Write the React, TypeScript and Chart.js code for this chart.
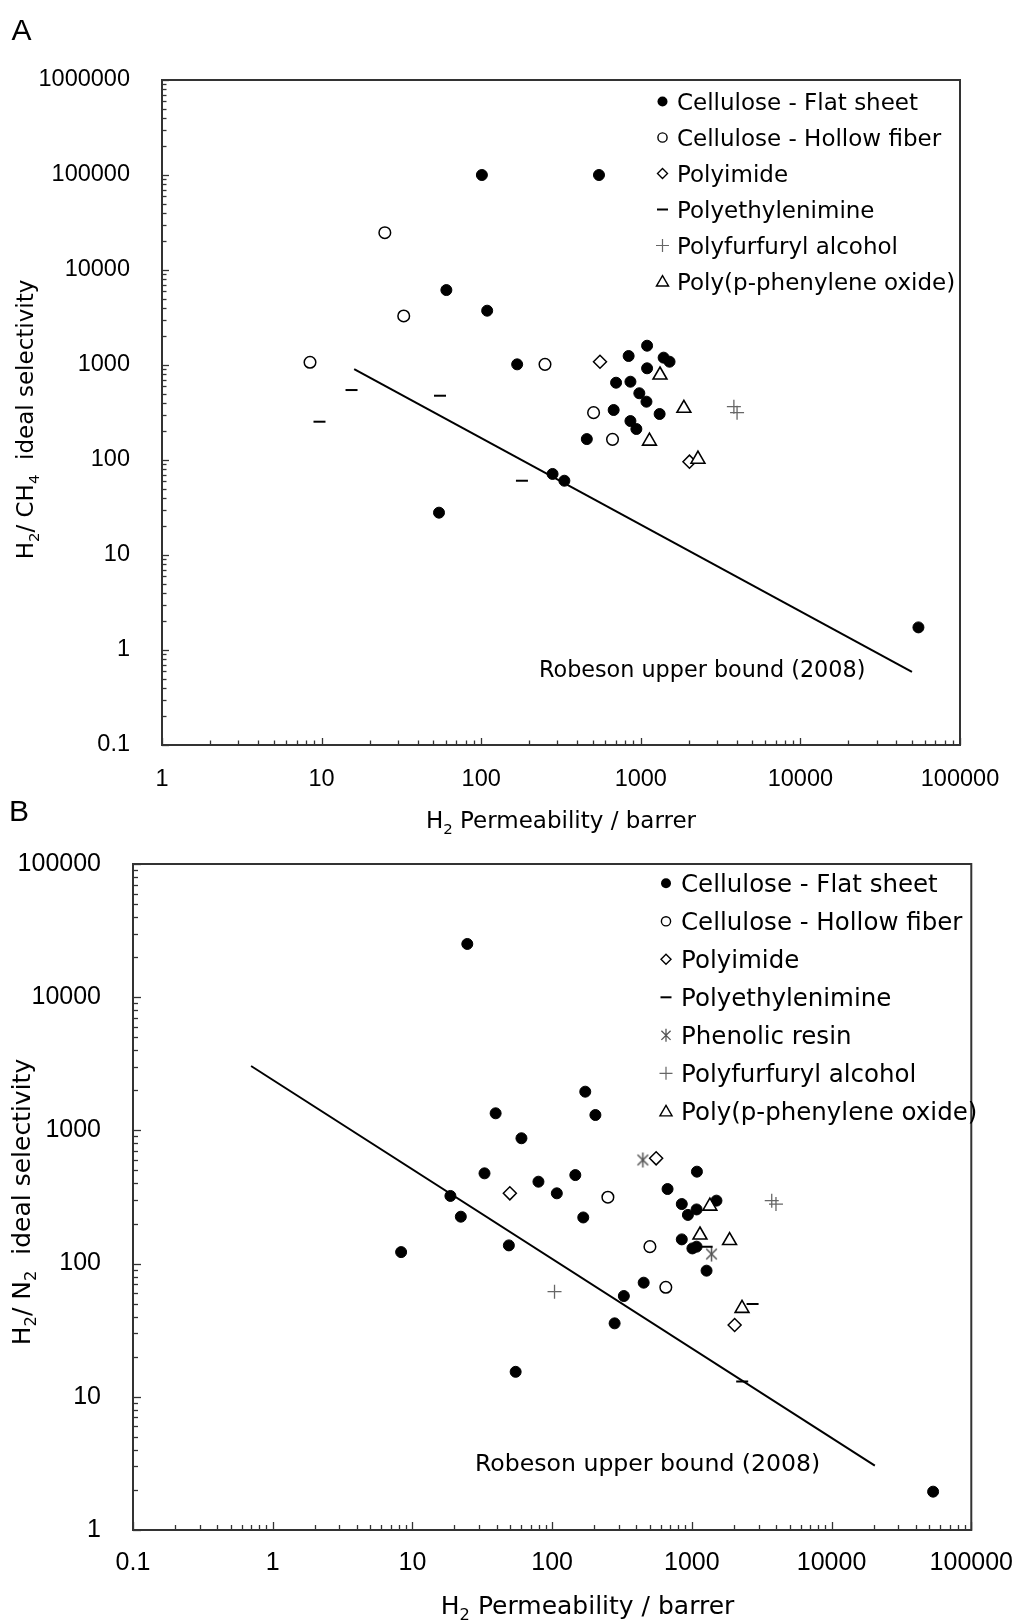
import React, { useEffect, useRef } from 'react';
import { Chart, registerables } from 'chart.js';

Chart.register(...registerables);

const TEXT_FONT = '"DejaVu Sans", "Noto Sans", sans-serif';
const TICK_FONT = '"Liberation Sans", Arial, sans-serif';

// ---------------- Panel A : H2 / CH4 ----------------
const A_X_TICKS = [1, 10, 100, 1000, 10000, 100000];
const A_X_LABELS = ['1', '10', '100', '1000', '10000', '100000'];
const A_Y_TICKS = [0.1, 1, 10, 100, 1000, 10000, 100000, 1000000];
const A_Y_LABELS = ['0.1', '1', '10', '100', '1000', '10000', '100000', '1000000'];

const A_FLAT_P = [101, 547, 60.5, 109, 168, 1095, 839, 1390, 1514, 1095, 700, 861, 979, 1085, 676, 1312, 861, 938, 459, 54.4, 280, 332, 54900];
const A_FLAT_S = [100000, 100000, 6150, 3730, 1016, 1596, 1244, 1195, 1083, 923, 651, 667, 504, 411, 336, 305, 257, 212, 166, 27.9, 71.3, 60.5, 1.73];
const A_HOLLOW_P = [24.9, 32.7, 8.46, 251, 506, 665];
const A_HOLLOW_S = [24700, 3280, 1068, 1016, 315, 165];
const A_PI_P = [555, 2018];
const A_PI_S = [1083, 96];
const A_PEI_P = [15.4, 55.2, 9.7, 180];
const A_PEI_S = [545, 475, 253, 60.5];
const A_PFA_P = [3830, 4010];
const A_PFA_S = [364, 315];
const A_PPO_P = [1319, 1862, 1133, 2281];
const A_PPO_S = [785, 350, 158, 102];
const A_BOUND_P = [16, 50000];
const A_BOUND_S = [907, 0.59];

// ---------------- Panel B : H2 / N2 ----------------
const B_X_TICKS = [0.1, 1, 10, 100, 1000, 10000, 100000];
const B_X_LABELS = ['0.1', '1', '10', '100', '1000', '10000', '100000'];
const B_Y_TICKS = [1, 10, 100, 1000, 10000, 100000];
const B_Y_LABELS = ['1', '10', '100', '1000', '10000', '100000'];

const B_FLAT_P = [24.7, 39.4, 32.8, 18.7, 22.2, 49, 8.3, 172.6, 204, 60.3, 79.8, 108, 146.5, 167, 1087, 670, 847, 1081, 937, 1500, 847, 1009, 1081, 1274, 452, 326, 280, 54.8, 53300];
const B_FLAT_S = [25100, 1344, 476, 322, 225, 137, 122, 1953, 1305, 873, 412, 337, 462, 222, 490, 363, 280, 255, 232, 297, 152, 130, 134, 88.5, 71.9, 57.1, 35.6, 15.4, 1.94];
const B_HOLLOW_P = [250.6, 501, 651];
const B_HOLLOW_S = [315, 134, 66.4];
const B_PI_P = [49.8, 555, 2024];
const B_PI_S = [337, 617, 34.6];
const B_PEI_P = [1276, 2720, 2292];
const B_PEI_S = [134, 49.8, 13.0];
const B_PHEN_P = [446, 1383];
const B_PHEN_S = [600, 118];
const B_PFA_P = [104, 3730, 4000];
const B_PFA_S = [61.5, 297, 280];
const B_PPO_P = [1346, 1143, 1862, 2286];
const B_PPO_S = [270, 164, 149, 46.1];
const B_BOUND_P = [0.7, 20400];
const B_BOUND_S = [3045, 3.04];

type Kind = 'flat' | 'hollow' | 'polyimide' | 'pei' | 'phenolic' | 'pfa' | 'ppo';
type Part = { t: string; sub?: boolean };

interface Series { label: string; kind: Kind; xs: number[]; ys: number[] }

const zip = (xs: number[], ys: number[]) => xs.map((x, i) => ({ x, y: ys[i] }));

const ASTERISK_ANGLES = [90, 45, 135];

function makeAsterisk(r: number, color: string, lw: number): HTMLCanvasElement {
  const c = document.createElement('canvas');
  const s = Math.ceil(2 * r + 4);
  c.width = s;
  c.height = s;
  const g = c.getContext('2d')!;
  g.strokeStyle = color;
  g.lineWidth = lw;
  const cx = s / 2;
  for (const a of ASTERISK_ANGLES) {
    const rad = (a * Math.PI) / 180;
    g.beginPath();
    g.moveTo(cx - r * Math.cos(rad), cx - r * Math.sin(rad));
    g.lineTo(cx + r * Math.cos(rad), cx + r * Math.sin(rad));
    g.stroke();
  }
  return c;
}

function pointOptions(kind: Kind): any {
  switch (kind) {
    case 'flat':
      return { pointStyle: 'circle', pointRadius: 5.5, pointBackgroundColor: '#000', pointBorderColor: '#000', pointBorderWidth: 1, order: 6 };
    case 'hollow':
      return { pointStyle: 'circle', pointRadius: 5.8, pointBackgroundColor: '#fff', pointBorderColor: '#000', pointBorderWidth: 1.5, order: 8 };
    case 'polyimide':
      return { pointStyle: 'rectRot', pointRadius: 6.5, pointBackgroundColor: '#fff', pointBorderColor: '#000', pointBorderWidth: 1.5, order: 4 };
    case 'pei':
      return { pointStyle: 'line', pointRadius: 6, pointBackgroundColor: '#000', pointBorderColor: '#000', pointBorderWidth: 2, order: 3 };
    case 'phenolic':
      return { pointStyle: makeAsterisk(7.5, '#555', 1.5), pointRadius: 7.5, order: 3 };
    case 'pfa':
      return { pointStyle: 'cross', pointRadius: 7, pointBackgroundColor: '#666', pointBorderColor: '#666', pointBorderWidth: 1.3, order: 2 };
    case 'ppo':
    default:
      return { pointStyle: 'triangle', pointRadius: 8, pointBackgroundColor: '#fff', pointBorderColor: '#000', pointBorderWidth: 1.6, order: 1 };
  }
}

function drawLegendMarker(ctx: CanvasRenderingContext2D, kind: Kind, x: number, y: number) {
  ctx.save();
  ctx.strokeStyle = '#000';
  ctx.fillStyle = '#000';
  ctx.lineWidth = 1.4;
  ctx.beginPath();
  switch (kind) {
    case 'flat':
      ctx.arc(x, y, 5, 0, Math.PI * 2);
      ctx.fill();
      break;
    case 'hollow':
      ctx.arc(x, y, 4.6, 0, Math.PI * 2);
      ctx.fillStyle = '#fff';
      ctx.fill();
      ctx.stroke();
      break;
    case 'polyimide':
      ctx.moveTo(x - 5, y);
      ctx.lineTo(x, y - 5);
      ctx.lineTo(x + 5, y);
      ctx.lineTo(x, y + 5);
      ctx.closePath();
      ctx.fillStyle = '#fff';
      ctx.fill();
      ctx.stroke();
      break;
    case 'pei':
      ctx.lineWidth = 2;
      ctx.moveTo(x - 5.5, y);
      ctx.lineTo(x + 5.5, y);
      ctx.stroke();
      break;
    case 'phenolic': {
      ctx.strokeStyle = '#555';
      ctx.lineWidth = 1.3;
      for (const a of ASTERISK_ANGLES) {
        const rad = (a * Math.PI) / 180;
        ctx.moveTo(x - 6.5 * Math.cos(rad), y - 6.5 * Math.sin(rad));
        ctx.lineTo(x + 6.5 * Math.cos(rad), y + 6.5 * Math.sin(rad));
      }
      ctx.stroke();
      break;
    }
    case 'pfa':
      ctx.strokeStyle = '#666';
      ctx.lineWidth = 1.2;
      ctx.moveTo(x - 6.5, y);
      ctx.lineTo(x + 6.5, y);
      ctx.moveTo(x, y - 6.5);
      ctx.lineTo(x, y + 6.5);
      ctx.stroke();
      break;
    case 'ppo': {
      const r = 7;
      ctx.moveTo(x, y - r * 0.85);
      ctx.lineTo(x + r * 0.866, y + r * 0.65);
      ctx.lineTo(x - r * 0.866, y + r * 0.65);
      ctx.closePath();
      ctx.fillStyle = '#fff';
      ctx.fill();
      ctx.stroke();
      break;
    }
  }
  ctx.restore();
}

function partsWidth(ctx: CanvasRenderingContext2D, parts: Part[], size: number) {
  let w = 0;
  for (const p of parts) {
    ctx.font = `${p.sub ? size * 0.65 : size}px ${TEXT_FONT}`;
    w += ctx.measureText(p.t).width;
  }
  return w;
}

function fillParts(ctx: CanvasRenderingContext2D, parts: Part[], x: number, baseline: number, size: number) {
  for (const p of parts) {
    const s = p.sub ? size * 0.65 : size;
    ctx.font = `${s}px ${TEXT_FONT}`;
    ctx.fillText(p.t, x, baseline + (p.sub ? size * 0.24 : 0));
    x += ctx.measureText(p.t).width;
  }
}

const decorPlugin = {
  id: 'decor',
  beforeDatasetsDraw(chart: any, _args: any, opts: any) {
    const { ctx, chartArea: a, scales } = chart;
    ctx.save();
    ctx.strokeStyle = '#333';
    ctx.lineWidth = 1.3;
    const xs = scales.x;
    const ys = scales.y;
    for (let k = Math.floor(Math.log10(xs.min)); k <= Math.ceil(Math.log10(xs.max)); k++) {
      for (let m = 1; m <= 9; m++) {
        const v = m * Math.pow(10, k);
        if (v < xs.min * 0.999 || v > xs.max * 1.001) continue;
        const px = Math.round(xs.getPixelForValue(v)) + 0.5;
        const len = m === 1 ? opts.majorLen : opts.minorLen;
        ctx.beginPath();
        ctx.moveTo(px, a.bottom);
        ctx.lineTo(px, a.bottom - len);
        ctx.stroke();
      }
    }
    for (let k = Math.floor(Math.log10(ys.min)); k <= Math.ceil(Math.log10(ys.max)); k++) {
      for (let m = 1; m <= 9; m++) {
        const v = m * Math.pow(10, k);
        if (v < ys.min * 0.999 || v > ys.max * 1.001) continue;
        const py = Math.round(ys.getPixelForValue(v)) + 0.5;
        const len = m === 1 ? opts.majorLen : opts.minorLen;
        ctx.beginPath();
        ctx.moveTo(a.left, py);
        ctx.lineTo(a.left + len, py);
        ctx.stroke();
      }
    }
    ctx.strokeStyle = '#333';
    ctx.lineWidth = 2;
    ctx.strokeRect(a.left, a.top, a.right - a.left, a.bottom - a.top);
    ctx.restore();
  },
  afterDraw(chart: any, _args: any, opts: any) {
    const ctx: CanvasRenderingContext2D = chart.ctx;
    ctx.save();
    ctx.fillStyle = '#000';
    ctx.textBaseline = 'alphabetic';
    ctx.textAlign = 'left';

    // panel letter
    ctx.font = `${opts.panel.size}px ${TICK_FONT}`;
    ctx.fillText(opts.panel.text, opts.panel.x, opts.panel.baseline);

    // x title
    const xt = opts.xTitle;
    const xw = partsWidth(ctx, xt.parts, xt.size);
    fillParts(ctx, xt.parts, xt.cx - xw / 2, xt.baseline, xt.size);

    // y title (rotated)
    const yt = opts.yTitle;
    ctx.save();
    ctx.translate(yt.cx, yt.cy);
    ctx.rotate(-Math.PI / 2);
    const yw = partsWidth(ctx, yt.parts, yt.size);
    fillParts(ctx, yt.parts, -yw / 2, yt.size * 0.365, yt.size);
    ctx.restore();

    // upper bound note
    const n = opts.note;
    ctx.font = `${n.size}px ${TEXT_FONT}`;
    ctx.fillText(n.text, n.x, n.baseline);

    // legend
    const lg = opts.legend;
    const entries = chart.data.datasets.filter((d: any) => d.kind);
    entries.forEach((d: any, i: number) => {
      const y = lg.y0 + i * lg.dy;
      drawLegendMarker(ctx, d.kind, lg.x, y);
      ctx.fillStyle = '#000';
      ctx.font = `${lg.size}px ${TEXT_FONT}`;
      ctx.fillText(d.label, lg.textX, y + lg.size * 0.365);
    });
    ctx.restore();
  },
};

interface Panel {
  width: number;
  height: number;
  padTop: number;
  padRight: number;
  yAxisWidth: number;
  xAxisHeight: number;
  xMin: number;
  xMax: number;
  yMin: number;
  yMax: number;
  xTicks: number[];
  xLabels: string[];
  yTicks: number[];
  yLabels: string[];
  tickSize: number;
  yTickPad: number;
  xTickPad: number;
  series: Series[];
  boundP: number[];
  boundS: number[];
  decor: any;
}

function buildConfig(p: Panel): any {
  const datasets: any[] = p.series.map((s) => ({
    type: 'scatter',
    label: s.label,
    kind: s.kind,
    data: zip(s.xs, s.ys),
    showLine: false,
    ...pointOptions(s.kind),
  }));
  datasets.push({
    type: 'scatter',
    label: 'Robeson upper bound (2008)',
    data: zip(p.boundP, p.boundS),
    showLine: true,
    borderColor: '#000',
    borderWidth: 2,
    pointRadius: 0,
    fill: false,
    order: 10,
  });
  return {
    type: 'scatter',
    data: { datasets },
    plugins: [decorPlugin],
    options: {
      responsive: false,
      animation: false,
      devicePixelRatio: 1,
      events: [],
      layout: { padding: { top: p.padTop, right: p.padRight, left: 0, bottom: 0 } },
      plugins: {
        legend: { display: false },
        tooltip: { enabled: false },
        decor: p.decor,
      },
      scales: {
        x: {
          type: 'logarithmic',
          position: 'bottom',
          min: p.xMin,
          max: p.xMax,
          grid: { display: false },
          border: { display: false },
          afterBuildTicks: (s: any) => {
            s.ticks = p.xTicks.map((v) => ({ value: v }));
          },
          afterFit: (s: any) => {
            s.height = p.xAxisHeight;
          },
          ticks: {
            autoSkip: false,
            maxRotation: 0,
            minRotation: 0,
            padding: p.xTickPad,
            color: '#000',
            font: { family: TICK_FONT, size: p.tickSize },
            callback: (_v: any, i: number) => p.xLabels[i],
          },
        },
        y: {
          type: 'logarithmic',
          position: 'left',
          min: p.yMin,
          max: p.yMax,
          grid: { display: false },
          border: { display: false },
          afterBuildTicks: (s: any) => {
            s.ticks = p.yTicks.map((v) => ({ value: v }));
          },
          afterFit: (s: any) => {
            s.width = p.yAxisWidth;
          },
          ticks: {
            autoSkip: false,
            padding: p.yTickPad,
            color: '#000',
            font: { family: TICK_FONT, size: p.tickSize },
            callback: (_v: any, i: number) => p.yLabels[i],
          },
        },
      },
    },
  };
}

const PANEL_A: Panel = {
  width: 1023,
  height: 840,
  padTop: 80,
  padRight: 63,
  yAxisWidth: 162,
  xAxisHeight: 95,
  xMin: 1,
  xMax: 100000,
  yMin: 0.1,
  yMax: 1000000,
  xTicks: A_X_TICKS,
  xLabels: A_X_LABELS,
  yTicks: A_Y_TICKS,
  yLabels: A_Y_LABELS,
  tickSize: 23.5,
  yTickPad: 24,
  xTickPad: 12,
  series: [
    { label: 'Cellulose - Flat sheet', kind: 'flat', xs: A_FLAT_P, ys: A_FLAT_S },
    { label: 'Cellulose - Hollow fiber', kind: 'hollow', xs: A_HOLLOW_P, ys: A_HOLLOW_S },
    { label: 'Polyimide', kind: 'polyimide', xs: A_PI_P, ys: A_PI_S },
    { label: 'Polyethylenimine', kind: 'pei', xs: A_PEI_P, ys: A_PEI_S },
    { label: 'Polyfurfuryl alcohol', kind: 'pfa', xs: A_PFA_P, ys: A_PFA_S },
    { label: 'Poly(p-phenylene oxide)', kind: 'ppo', xs: A_PPO_P, ys: A_PPO_S },
  ],
  boundP: A_BOUND_P,
  boundS: A_BOUND_S,
  decor: {
    majorLen: 7,
    minorLen: 4.5,
    panel: { text: 'A', x: 11.5, baseline: 40, size: 30 },
    xTitle: { parts: [{ t: 'H' }, { t: '2', sub: true }, { t: ' Permeability / barrer' }], cx: 561, baseline: 828, size: 23 },
    yTitle: { parts: [{ t: 'H' }, { t: '2', sub: true }, { t: '/ CH' }, { t: '4', sub: true }, { t: '  ideal selectivity' }], cx: 25, cy: 419.5, size: 23 },
    note: { text: 'Robeson upper bound (2008)', x: 539, baseline: 677, size: 22.3 },
    legend: { x: 662.5, textX: 677, y0: 101.5, dy: 36, size: 23 },
  },
};

const PANEL_B: Panel = {
  width: 1023,
  height: 834,
  padTop: 74,
  padRight: 45,
  yAxisWidth: 133,
  xAxisHeight: 94,
  xMin: 0.1,
  xMax: 100000,
  yMin: 1,
  yMax: 100000,
  xTicks: B_X_TICKS,
  xLabels: B_X_LABELS,
  yTicks: B_Y_TICKS,
  yLabels: B_Y_LABELS,
  tickSize: 25,
  yTickPad: 24,
  xTickPad: 10,
  series: [
    { label: 'Cellulose - Flat sheet', kind: 'flat', xs: B_FLAT_P, ys: B_FLAT_S },
    { label: 'Cellulose - Hollow fiber', kind: 'hollow', xs: B_HOLLOW_P, ys: B_HOLLOW_S },
    { label: 'Polyimide', kind: 'polyimide', xs: B_PI_P, ys: B_PI_S },
    { label: 'Polyethylenimine', kind: 'pei', xs: B_PEI_P, ys: B_PEI_S },
    { label: 'Phenolic resin', kind: 'phenolic', xs: B_PHEN_P, ys: B_PHEN_S },
    { label: 'Polyfurfuryl alcohol', kind: 'pfa', xs: B_PFA_P, ys: B_PFA_S },
    { label: 'Poly(p-phenylene oxide)', kind: 'ppo', xs: B_PPO_P, ys: B_PPO_S },
  ],
  boundP: B_BOUND_P,
  boundS: B_BOUND_S,
  decor: {
    majorLen: 8,
    minorLen: 5,
    panel: { text: 'B', x: 9, baseline: 30.5, size: 30 },
    xTitle: { parts: [{ t: 'H' }, { t: '2', sub: true }, { t: ' Permeability / barrer' }], cx: 587.6, baseline: 824, size: 25 },
    yTitle: { parts: [{ t: 'H' }, { t: '2', sub: true }, { t: '/ N' }, { t: '2', sub: true }, { t: '  ideal selectivity' }], cx: 21, cy: 412, size: 25 },
    note: { text: 'Robeson upper bound (2008)', x: 475, baseline: 681, size: 23.6 },
    legend: { x: 666, textX: 681, y0: 93.3, dy: 38, size: 24.5 },
  },
};

function PanelChart({ panel, top }: { panel: Panel; top: number }) {
  const ref = useRef<HTMLCanvasElement>(null);
  useEffect(() => {
    if (!ref.current) return;
    const chart = new Chart(ref.current, buildConfig(panel));
    return () => chart.destroy();
  }, [panel]);
  return (
    <canvas
      ref={ref}
      width={panel.width}
      height={panel.height}
      style={{ position: 'absolute', left: 0, top, width: panel.width, height: panel.height }}
    />
  );
}

export default function App() {
  return (
    <div style={{ position: 'absolute', left: 0, top: 0, width: 1023, height: 1624, background: '#fff' }}>
      <PanelChart panel={PANEL_A} top={0} />
      <PanelChart panel={PANEL_B} top={790} />
    </div>
  );
}
